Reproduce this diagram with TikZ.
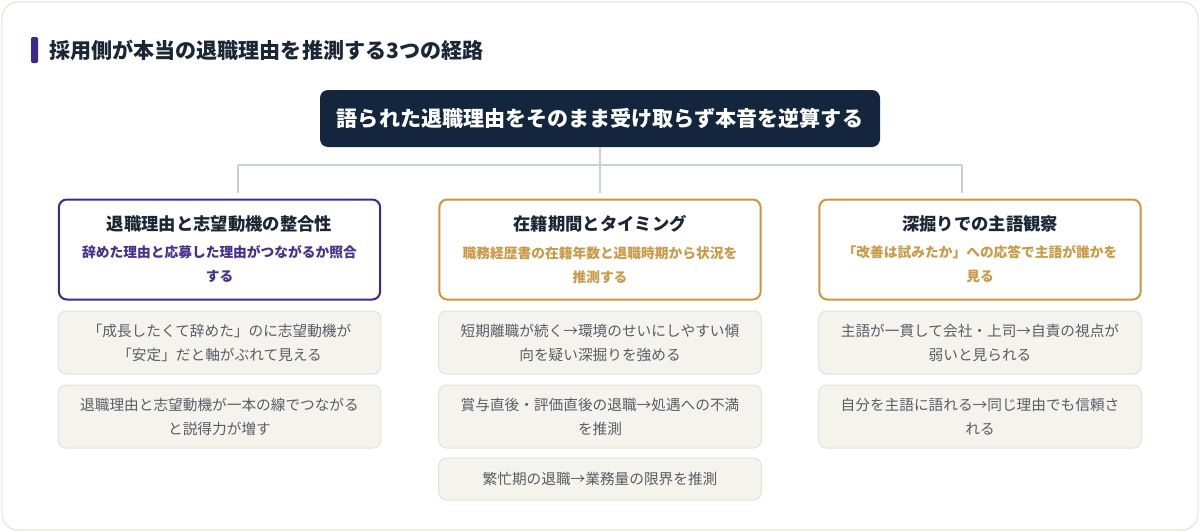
\documentclass[tikz,border=0pt]{standalone}
\usepackage{fontspec}
\setmainfont{Noto Sans CJK JP}
\usetikzlibrary{positioning}
\definecolor{navy}{HTML}{13263D}
\definecolor{inkdark}{HTML}{1B2636}
\definecolor{purp}{HTML}{3B2A8C}
\definecolor{purptext}{HTML}{48308F}
\definecolor{gold}{HTML}{C9983D}
\definecolor{goldtext}{HTML}{C99A48}
\definecolor{itemfill}{HTML}{F5F3EE}
\definecolor{itemline}{HTML}{E4E1D7}
\definecolor{itemtext}{HTML}{585D64}
\definecolor{connline}{HTML}{C9D0D8}
\definecolor{frameline}{HTML}{E9E7DD}
\tikzset{
  catbox/.style={draw,line width=1.5pt,rounded corners=6pt,fill=white,
    minimum width=241pt,minimum height=75pt,align=center,inner sep=0pt,
    font=\fontsize{10.3}{18}\selectfont\bfseries},
  itembox/.style={draw=itemline,line width=0.75pt,fill=itemfill,rounded corners=6pt,
    minimum width=242pt,minimum height=47.25pt,align=center,inner sep=0pt,
    text=itemtext,font=\fontsize{11}{18}\selectfont},
  conn/.style={draw=connline,line width=1.5pt}
}
\newcommand{\cattext}[2]{{\color{inkdark}\fontsize{13}{18}\selectfont #1}\\[2.5pt]#2}
\begin{document}
\begin{tikzpicture}[x=0.75pt,y=-0.75pt]
	\useasboundingbox (0,0) rectangle (1200,532);
	\draw[frameline,fill=white,line width=1pt,rounded corners=12pt](2,2) rectangle (1198,530);
	% heading
	\fill[purp,rounded corners=1pt](31,37) rectangle (38,63);
	\node[anchor=west,inner sep=0pt,text=inkdark,font=\fontsize{15.8}{20}\selectfont\bfseries] (heading) at (49,50) {採用側が本当の退職理由を推測する3つの経路};
	% root
	\node[fill=navy,rounded corners=6pt,minimum width=420pt,minimum height=42.75pt,inner sep=0pt,text=white,font=\fontsize{15.8}{20}\selectfont\bfseries] (root) at (600,118.5) {語られた退職理由をそのまま受け取らず本音を逆算する};
	% three routes
	\node[catbox,draw=purp,text=purptext] (cat1) at (219.5,249.5) {\cattext{退職理由と志望動機の整合性}{辞めた理由と応募した理由がつながるか照合\\する}};
	\node[catbox,draw=gold,text=goldtext] (cat2) at (600,249.5) {\cattext{在籍期間とタイミング}{職務経歴書の在籍年数と退職時期から状況を\\推測する}};
	\node[catbox,draw=gold,text=goldtext] (cat3) at (980,249.5) {\cattext{深掘りでの主語観察}{「改善は試みたか」への応答で主語が誰かを\\見る}};
	\coordinate (hub) at (600,165);
	\coordinate (left) at (238,165);
	\coordinate (right) at (962,165);
	\draw[conn,shorten >=4pt](root.south)--(cat2.north);
	\draw[conn](left)--(right);
	\draw[conn,shorten >=4pt](left)--(left|-cat1.north);
	\draw[conn,shorten >=4pt](right)--(right|-cat3.north);
	% items
	\node[itembox] (a1) at (219.5,342.5) {「成長したくて辞めた」のに志望動機が\\「安定」だと軸がぶれて見える};
	\node[itembox] (a2) at (219.5,416.5) {退職理由と志望動機が一本の線でつながる\\と説得力が増す};
	\node[itembox] (b1) at (600,342.5) {短期離職が続く→環境のせいにしやすい傾\\向を疑い深掘りを強める};
	\node[itembox] (b2) at (600,416.5) {賞与直後・評価直後の退職→処遇への不満\\を推測};
	\node[itembox,minimum height=31.5pt] (b3) at (600,479) {繁忙期の退職→業務量の限界を推測};
	\node[itembox] (c1) at (980,342.5) {主語が一貫して会社・上司→自責の視点が\\弱いと見られる};
	\node[itembox] (c2) at (980,416.5) {自分を主語に語れる→同じ理由でも信頼さ\\れる};
\end{tikzpicture}
\end{document}
